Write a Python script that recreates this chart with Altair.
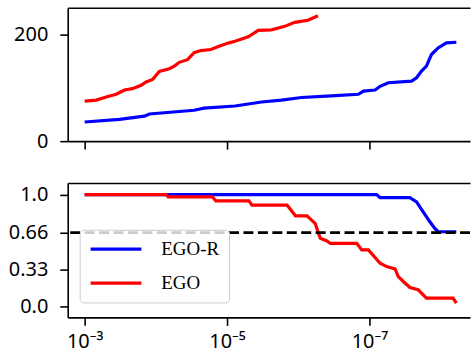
import altair as alt
import pandas as pd

# ---- data (x given as log10 of tolerance) ----
series_names = ["EGO-R", "EGO"]
series_colors = ["#0000ff", "#ff0000"]

# top panel
egor_top_exp = [-3.000, -3.490, -3.839, -3.909, -4.538, -4.678, -5.112, -5.485, -5.765, -6.045,
                -6.464, -6.846, -6.916, -7.080, -7.150, -7.266, -7.592, -7.662, -7.732, -7.801,
                -7.871, -7.965, -8.081, -8.221]
egor_top_val = [36, 41, 47, 51, 58, 62, 66, 73.5, 77, 82,
                85, 88, 94, 96, 103, 109.7, 112.7, 119, 131.4, 140.7,
                162.6, 175, 184.5, 185.6]
ego_top_exp = [-3.000, -3.164, -3.303, -3.443, -3.559, -3.671, -3.793, -3.863, -3.955, -4.049,
               -4.189, -4.259, -4.329, -4.445, -4.538, -4.632, -4.772, -4.888, -5.028, -5.112,
               -5.298, -5.438, -5.625, -5.811, -5.951, -6.137, -6.277]
ego_top_val = [75, 77, 83, 88, 96, 98.5, 105, 111, 116, 131,
               136, 141, 148, 153, 166, 170, 172, 178, 184.5, 187.5,
               196, 208, 209, 215.5, 223, 227, 235.5]

# bottom panel
egor_bot_exp = [-3.000, -7.101, -7.150, -7.569, -7.662, -7.755, -7.849, -7.919, -7.965, -8.221]
egor_bot_val = [1.0, 1.0, 0.973, 0.973, 0.935, 0.846, 0.757, 0.697, 0.668, 0.668]
ego_bot_exp = [-3.000, -4.147, -4.175, -4.794, -4.842, -5.308, -5.350, -5.843, -5.961, -6.123,
               -6.240, -6.287, -6.310, -6.403, -6.450, -6.822, -6.892, -6.986, -7.150, -7.242,
               -7.359, -7.406, -7.476, -7.569, -7.685, -7.801, -8.175, -8.221]
ego_bot_val = [1.0, 1.0, 0.98, 0.98, 0.944, 0.944, 0.906, 0.906, 0.81, 0.81,
               0.74, 0.65, 0.61, 0.585, 0.564, 0.564, 0.505, 0.505, 0.386, 0.356,
               0.336, 0.267, 0.223, 0.169, 0.149, 0.074, 0.074, 0.03]

threshold = 0.66

x_ticks = [1e-3, 1e-5, 1e-7]
x_tick_labels = ["10⁻³", "10⁻⁵", "10⁻⁷"]
top_y_ticks = [0, 200]
bot_y_ticks = [0.0, 0.33, 0.66, 1.0]
bot_y_labels = ["0.0", "0.33", "0.66", "1.0"]


def frame(exps, vals, name):
    return pd.DataFrame({"tol": [10 ** e for e in exps], "val": vals,
                         "series": name, "idx": list(range(len(vals)))})


df_top = pd.concat([frame(egor_top_exp, egor_top_val, "EGO-R"),
                    frame(ego_top_exp, ego_top_val, "EGO")])
df_bot = pd.concat([frame(egor_bot_exp, egor_bot_val, "EGO-R"),
                    frame(ego_bot_exp, ego_bot_val, "EGO")])

TICK_FONT = "Noto Sans"
LEG_FONT = "Liberation Serif"

xscale = alt.Scale(type="log", domain=[10 ** -8.413, 10 ** -2.762], reverse=True, nice=False)

label_expr = " : ".join(
    f"datum.value < {t * 3.1623:.3g} ? '{l}'" for t, l in zip(reversed(x_ticks[1:]), reversed(x_tick_labels[1:]))
) + f" : '{x_tick_labels[0]}'"

ylab_expr = " : ".join(
    f"abs(datum.value - {v}) < 0.001 ? '{l}'" for v, l in zip(bot_y_ticks, bot_y_labels)
) + " : ''"

color_scale = alt.Scale(domain=series_names, range=series_colors)

W = 404
LW = 3.2

# ---- top panel ----
top_lines = alt.Chart(df_top).mark_line(strokeWidth=LW).encode(
    x=alt.X("tol:Q", scale=xscale,
            axis=alt.Axis(values=x_ticks, labels=False, title=None)),
    y=alt.Y("val:Q", scale=alt.Scale(domain=[0, 250.5], nice=False),
            axis=alt.Axis(values=top_y_ticks, title=None)),
    color=alt.Color("series:N", scale=color_scale, legend=None),
    order="idx:Q",
)
top_spine = alt.Chart(df_top).mark_tick(opacity=0).encode(
    x=alt.X("tol:Q", scale=xscale,
            axis=alt.Axis(orient="top", ticks=False, labels=False, title=None)),
)
top = alt.layer(top_lines, top_spine).resolve_axis(x="independent").properties(width=W, height=134)

# ---- bottom panel ----
bot_lines = alt.Chart(df_bot).mark_line(strokeWidth=LW).encode(
    x=alt.X("tol:Q", scale=xscale,
            axis=alt.Axis(values=x_ticks, labelExpr=label_expr, title=None, labelPadding=6)),
    y=alt.Y("val:Q", scale=alt.Scale(domain=[-0.098, 1.104], nice=False),
            axis=alt.Axis(values=bot_y_ticks, labelExpr=ylab_expr, title=None)),
    color=alt.Color("series:N", scale=color_scale, title=None,
                    legend=alt.Legend(orient="none", legendX=12, legendY=47,
                                      symbolType="M-1,0H5", symbolStrokeWidth=3.2, symbolSize=289,
                                      labelExpr="datum.label + '\u2003\u2003'",
                                      labelFont=LEG_FONT, labelFontSize=19, labelColor="black",
                                      fillColor="rgba(255,255,255,0.8)", strokeColor="#cccccc",
                                      cornerRadius=4, padding=9, rowPadding=13, labelOffset=52)),
    order="idx:Q",
)
thr_rule = alt.Chart(pd.DataFrame({"t": [threshold]})).mark_rule(
    color="black", strokeWidth=2.6, strokeDash=[10, 4.5]
).encode(y="t:Q")
bot_spine = alt.Chart(df_bot).mark_tick(opacity=0).encode(
    x=alt.X("tol:Q", scale=xscale,
            axis=alt.Axis(orient="top", ticks=False, labels=False, title=None)),
)
bottom = alt.layer(bot_lines, thr_rule, bot_spine).resolve_axis(x="independent").properties(width=W, height=135)

chart = alt.vconcat(top, bottom, spacing=32).resolve_scale(color="independent").properties(
    padding={"left": 8, "top": 7, "right": 0, "bottom": 0}
).configure_view(stroke=None).configure_axis(
    domainColor="black", domainWidth=1.6, tickColor="black", tickWidth=1.6, tickSize=8,
    labelFont=TICK_FONT, labelFontSize=20, labelColor="black", grid=False, labelPadding=12,
)

chart.save("out.html", embed_options={"renderer": "svg", "actions": False})
